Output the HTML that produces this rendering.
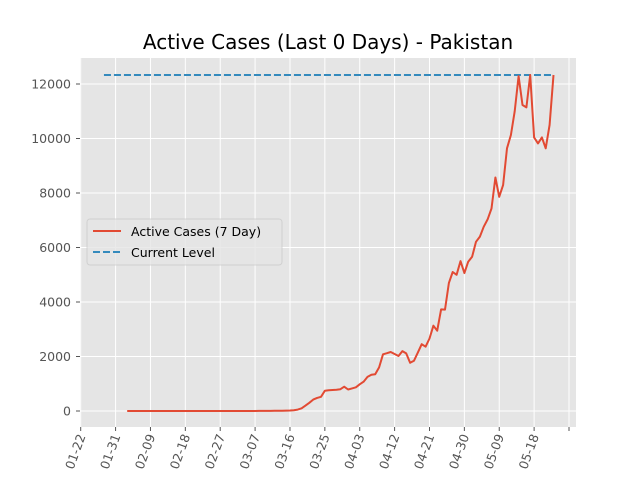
<!DOCTYPE html>
<html><head><meta charset="utf-8"><style>body{margin:0;background:#fff}svg{display:block;font-family:"DejaVu Sans","Liberation Sans",sans-serif}</style></head>
<body>
<svg id="chart" width="640" height="480" viewBox="0 0 640 480" xmlns="http://www.w3.org/2000/svg">
<rect x="0" y="0" width="640" height="480" fill="#fff"/>
<text x="328" y="49" text-anchor="middle" font-size="20" fill="#000">Active Cases (Last 0 Days) - Pakistan</text>
<rect x="80" y="58" width="496" height="369" fill="#e5e5e5"/>
<g id="grid"></g><g id="axes"></g><g id="series"></g>
<g>
<rect x="87" y="219" width="195" height="46" rx="3" fill="#e5e5e5" stroke="#ccc" stroke-width="1" opacity="0.8"/>
<line x1="93" y1="231" x2="121" y2="231" stroke="#e24a33" stroke-width="2"/>
<text x="131" y="236" font-size="12.5" fill="#000">Active Cases (7 Day)</text>
<line x1="93" y1="252" x2="121" y2="252" stroke="#348abd" stroke-width="2" stroke-dasharray="7,3"/>
<text x="131" y="257" font-size="12.5" fill="#000">Current Level</text>
</g>
</svg>
<script>
const tickLabels = ["01-22","01-31","02-09","02-18","02-27","03-07","03-16","03-25","04-03","04-12","04-21","04-30","05-09","05-18",""];
const tickDays = [0,9,18,27,36,45,54,63,72,81,90,99,108,117,126];
const yTicks = [0,2000,4000,6000,8000,10000,12000];
const startDay = 12;
const activeCases = [0,0,0,0,0,0,0,0,0,0,0,0,0,0,0,0,0,0,0,0,0,0,0,0,0,0,0,0,0,0,0,0,0,0,2,3,4,5,6,8,10,15,20,30,50,100,200,300,420,480,520,745,760,770,780,800,890,790,830,870,980,1075,1250,1330,1345,1600,2080,2120,2165,2090,2020,2200,2115,1770,1845,2150,2450,2360,2660,3130,2945,3730,3720,4700,5100,5000,5500,5060,5480,5660,6210,6400,6760,7030,7430,8570,7860,8290,9640,10130,11000,12290,11230,11140,12330,10040,9820,10040,9640,10500,12330];
const currentLevel = [12330];
const currentStartDay = 6;
const NS="http://www.w3.org/2000/svg";
const x = d => 80.7 + d*(569-80.7)/126;
const y = v => 411 - v*(411-84)/12000;
function mk(tag, attrs, parent){const e=document.createElementNS(NS,tag);for(const k in attrs)e.setAttribute(k,attrs[k]);parent.appendChild(e);return e;}
const grid=document.getElementById('grid'), axes=document.getElementById('axes'), series=document.getElementById('series');
tickDays.forEach((d,i)=>{
  const gx=mk('line',{x1:x(d),x2:x(d),y1:58,y2:427,stroke:'#fff','stroke-width':1},grid);
  
  
  const t=mk('line',{x1:x(d),x2:x(d),y1:427,y2:431,stroke:'#555','stroke-width':1},axes);
  
  
  if(tickLabels[i]){
    const lx=x(d)+5, ly=436;
    const tx=mk('text',{x:lx,y:ly,'font-size':12.5,fill:'#555','text-anchor':'end',transform:`rotate(-70 ${lx} ${ly})`},axes);
    
    
    tx.textContent=tickLabels[i];
  }
});
yTicks.forEach(v=>{
  const gy=mk('line',{x1:80,x2:576,y1:y(v),y2:y(v),stroke:'#fff','stroke-width':1},grid);
  
  
  const t=mk('line',{x1:76,x2:80,y1:y(v),y2:y(v),stroke:'#555','stroke-width':1},axes);
  
  
  const tx=mk('text',{x:71,y:y(v)+4.5,'font-size':12.5,fill:'#555','text-anchor':'end'},axes);
  
  
  tx.textContent=String(v);
});
const lastDay=startDay+activeCases.length-1;
const cl=mk('line',{x1:x(currentStartDay),x2:x(lastDay),y1:y(currentLevel[0]),y2:y(currentLevel[0]),stroke:'#348abd','stroke-width':2,'stroke-dasharray':'7,3'},series);


const pts=activeCases.map((v,i)=>x(startDay+i).toFixed(1)+','+y(v).toFixed(1)).join(' ');
const pl=mk('polyline',{points:pts,fill:'none',stroke:'#e24a33','stroke-width':2,'stroke-linejoin':'round'},series);


</script>
</body></html>
